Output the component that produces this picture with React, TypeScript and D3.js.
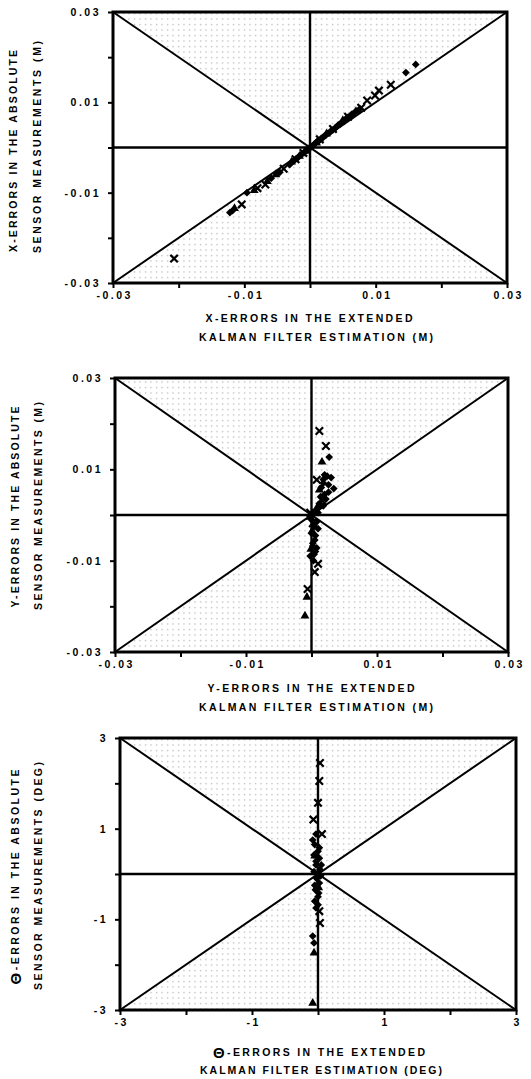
import { useEffect, useRef } from 'react';
import * as d3 from 'd3';

const width = 531;
const height = 1079;

// axis ticks and labels
const errorTicks = [-0.03, -0.02, -0.01, 0, 0.01, 0.02, 0.03];
const errorLabelValues = [-0.03, -0.01, 0.01, 0.03];
const errorLabels = ['-0.03', '-0.01', '0.01', '0.03'];
const thetaTicks = [-3, -2, -1, 0, 1, 2, 3];
const thetaLabelValues = [-3, -1, 1, 3];
const thetaLabels = ['-3', '-1', '1', '3'];

// X errors (m): [EKF estimation, absolute sensor]
const xDiamonds = [
    [0.0161, 0.0184], [0.0146, 0.0166], [0.0076, 0.0086], [0.0072, 0.0080], [0.0068, 0.0078],
    [0.0064, 0.0074], [0.0062, 0.0071], [0.0058, 0.0067], [0.0055, 0.0064], [0.0052, 0.0058],
    [0.0049, 0.0057], [0.0046, 0.0052], [0.0043, 0.0050], [0.0040, 0.0045], [0.0038, 0.0043],
    [0.0035, 0.0039], [0.0032, 0.0037], [0.0030, 0.0033], [0.0027, 0.0031], [0.0024, 0.0027],
    [0.0022, 0.0026], [0.0019, 0.0021], [0.0017, 0.0020], [0.0014, 0.0015], [0.0012, 0.0014],
    [0.0009, 0.0011], [0.0007, 0.0008], [0.0005, 0.0004], [0.0003, 0.0003], [0.0001, 0.0000],
    [-0.0002, -0.0002], [-0.0004, -0.0005], [-0.0007, -0.0008], [-0.0009, -0.0011], [-0.0012, -0.0014],
    [-0.0014, -0.0017], [-0.0017, -0.0020], [-0.0019, -0.0023], [-0.0022, -0.0026], [-0.0025, -0.0030],
    [-0.0031, -0.0038], [-0.0046, -0.0055], [-0.0059, -0.0068], [-0.0096, -0.0100], [-0.0122, -0.0144],
    [-0.0118, -0.0140],
];
const xCrosses = [
    [-0.0207, -0.0246], [0.0123, 0.0139], [0.0105, 0.0126], [0.0099, 0.0115], [0.0087, 0.0104],
    [0.0078, 0.0088], [0.0058, 0.0068], [0.0035, 0.0041], [0.0015, 0.0018], [-0.0010, -0.0012],
    [-0.0022, -0.0026], [-0.0040, -0.0047], [-0.0068, -0.0082], [-0.0104, -0.0126], [-0.0080, -0.0090],
];
const xTriangles = [
    [0.0070, 0.0080], [0.0050, 0.0060], [0.0025, 0.0030], [0.0010, 0.0010], [-0.0006, -0.0008],
    [-0.0016, -0.0019], [-0.0028, -0.0032], [-0.0052, -0.0060], [-0.0065, -0.0075], [-0.0085, -0.0095],
    [-0.0115, -0.0135],
];

// Y errors (m)
const yDiamonds = [
    [0.0027, 0.0127], [0.0020, 0.0088], [0.0024, 0.0085], [0.0030, 0.0082], [0.0018, 0.0078],
    [0.0018, 0.0070], [0.0026, 0.0066], [0.0034, 0.0058], [0.0026, 0.0050], [0.0015, 0.0060],
    [0.0020, 0.0045], [0.0014, 0.0040], [0.0022, 0.0035], [0.0012, 0.0025], [0.0018, 0.0020],
    [0.0008, 0.0012], [0.0003, 0.0003], [0.0010, 0.0005], [0.0000, -0.0010], [0.0008, -0.0015],
    [0.0004, -0.0025], [0.0010, -0.0030], [0.0000, -0.0040], [0.0006, -0.0045], [0.0005, -0.0055],
    [0.0002, -0.0062], [0.0002, -0.0068], [0.0008, -0.0072], [0.0006, -0.0080], [-0.0002, -0.0090],
    [0.0003, -0.0100], [0.0004, -0.0086],
];
const yCrosses = [
    [0.0012, 0.0184], [0.0022, 0.0151], [0.0008, 0.0077], [0.0016, 0.0032], [-0.0002, 0.0005],
    [0.0002, -0.0018], [0.0010, -0.0107], [0.0005, -0.0125], [-0.0006, -0.0162],
];
const yTriangles = [
    [0.0016, 0.0116], [0.0012, 0.0055], [0.0010, 0.0020], [-0.0002, -0.0005], [0.0001, -0.0035],
    [-0.0001, -0.0075], [-0.0007, -0.0180], [-0.0010, -0.0221],
];

// theta errors (deg)
const thetaDiamonds = [
    [-0.03, 0.88], [-0.08, 0.75], [-0.05, 0.65], [0.02, 0.58], [0.0, 0.5], [-0.06, 0.42],
    [0.02, 0.35], [-0.03, 0.28], [0.05, 0.2], [-0.03, 0.2], [0.03, 0.1], [-0.06, 0.05],
    [0.0, 0.0], [0.04, -0.04], [-0.02, -0.1], [0.02, -0.2], [-0.05, -0.25], [-0.04, -0.35],
    [0.01, -0.42], [0.0, -0.5], [-0.05, -0.6], [0.0, -0.68], [-0.03, -0.75], [-0.08, -1.37],
    [-0.06, -1.52],
];
const thetaCrosses = [
    [0.03, 2.45], [0.02, 2.05], [0.0, 1.57], [-0.07, 1.2], [0.06, 0.88], [0.03, -1.08], [0.02, -0.82],
];
const thetaTriangles = [[-0.06, -1.74], [-0.08, -2.85], [-0.05, 0.4], [0.01, -0.3]];

const panels = [
    {
        left: 113, right: 507, top: 12, bottom: 283, domain: [-0.03, 0.03],
        ticks: errorTicks, labelValues: errorLabelValues, labels: errorLabels,
        diamonds: xDiamonds, crosses: xCrosses, triangles: xTriangles,
        yTitle: [['X-ERRORS IN THE ABSOLUTE', 13, 151, 202], ['SENSOR MEASUREMENTS (M)', 37, 147, 212]],
        xTitle: [['X-ERRORS IN THE EXTENDED', 309, 318, 207], ['KALMAN FILTER ESTIMATION (M)', 316, 337, 234]],
    },
    {
        left: 115, right: 508, top: 378, bottom: 652, domain: [-0.03, 0.03],
        ticks: errorTicks, labelValues: errorLabelValues, labels: errorLabels,
        diamonds: yDiamonds, crosses: yCrosses, triangles: yTriangles,
        yTitle: [['Y-ERRORS IN THE ABSOLUTE', 15, 507, 201], ['SENSOR MEASUREMENTS (M)', 38, 506, 208]],
        xTitle: [['Y-ERRORS IN THE EXTENDED', 311, 688, 207], ['KALMAN FILTER ESTIMATION (M)', 316, 707, 234]],
    },
    {
        left: 120, right: 516, top: 738, bottom: 1010, domain: [-3, 3],
        ticks: thetaTicks, labelValues: thetaLabelValues, labels: thetaLabels,
        diamonds: thetaDiamonds, crosses: thetaCrosses, triangles: thetaTriangles,
        yTitle: [['Θ-ERRORS IN THE ABSOLUTE', 15, 877, 215], ['SENSOR MEASUREMENTS (DEG)', 38, 876, 228]],
        xTitle: [['Θ-ERRORS IN THE EXTENDED', 319, 1052, 212], ['KALMAN FILTER ESTIMATION (DEG)', 321, 1070, 242]],
    },
];

const font = '"Liberation Sans", Arial, sans-serif';

const App = () => {
    const svgRef = useRef(null);

    useEffect(() => {
        const svg = d3.select(svgRef.current);
        svg.selectAll('*').remove();

        const pat = svg.append('defs').append('pattern')
            .attr('id', 'stipple')
            .attr('width', 5.5)
            .attr('height', 5.5)
            .attr('patternUnits', 'userSpaceOnUse');
        pat.append('rect').attr('x', 2).attr('y', 2).attr('width', 1.1).attr('height', 1.1).attr('fill', '#999');

        panels.forEach(p => {
            const [lo, hi] = p.domain;
            const x = d3.scaleLinear().domain(p.domain).range([p.left, p.right]);
            const y = d3.scaleLinear().domain(p.domain).range([p.bottom, p.top]);
            const g = svg.append('g');
            const line = d3.line().x(d => x(d[0])).y(d => y(d[1]));

            // stippled hourglass |y| > |x|
            g.selectAll('path.shade')
                .data([[[lo, hi], [hi, hi], [0, 0]], [[lo, lo], [hi, lo], [0, 0]]])
                .join('path')
                .attr('class', 'shade')
                .attr('d', d => line(d) + 'Z')
                .attr('fill', 'url(#stipple)');

            // diagonals and zero cross
            g.selectAll('path.guide')
                .data([
                    [[lo, lo], [hi, hi]],
                    [[lo, hi], [hi, lo]],
                    [[lo, 0], [hi, 0]],
                    [[0, lo], [0, hi]],
                ])
                .join('path')
                .attr('class', 'guide')
                .attr('d', d => line(d))
                .attr('stroke', '#000')
                .attr('stroke-width', (d, i) => (i < 2 ? 2 : 2.4))
                .attr('fill', 'none');

            // markers
            const sym = d3.symbol();
            g.selectAll('path.dia')
                .data(p.diamonds)
                .join('path')
                .attr('class', 'dia')
                .attr('transform', d => `translate(${x(d[0])},${y(d[1])}) rotate(45)`)
                .attr('d', sym.type(d3.symbolSquare).size(30)())
                .attr('fill', '#000');
            g.selectAll('path.tri')
                .data(p.triangles)
                .join('path')
                .attr('class', 'tri')
                .attr('transform', d => `translate(${x(d[0])},${y(d[1])})`)
                .attr('d', sym.type(d3.symbolTriangle).size(34)())
                .attr('fill', '#000');
            g.selectAll('path.crs')
                .data(p.crosses)
                .join('path')
                .attr('class', 'crs')
                .attr('transform', d => `translate(${x(d[0])},${y(d[1])})`)
                .attr('d', sym.type(d3.symbolTimes || d3.symbolCross).size(38)())
                .attr('fill', 'none')
                .attr('stroke', '#000')
                .attr('stroke-width', 2.2);

            // frame
            g.append('rect')
                .attr('x', p.left)
                .attr('y', p.top)
                .attr('width', p.right - p.left)
                .attr('height', p.bottom - p.top)
                .attr('fill', 'none')
                .attr('stroke', '#000')
                .attr('stroke-width', 3);

            const fmt = v => {
                const i = p.labelValues.findIndex(l => Math.abs(l - v) < 1e-9);
                return i >= 0 ? p.labels[i] : '';
            };

            const yAxis = g.append('g')
                .attr('transform', `translate(${p.left},0)`)
                .call(d3.axisLeft(y).tickValues(p.ticks).tickSize(5).tickPadding(7).tickFormat(fmt));
            const xAxis = g.append('g')
                .attr('transform', `translate(0,${p.bottom})`)
                .call(d3.axisBottom(x).tickValues(p.ticks).tickSize(5).tickPadding(4).tickFormat(fmt));

            [yAxis, xAxis].forEach(a => {
                a.select('.domain').remove();
                a.selectAll('line').attr('stroke-width', 2);
                a.selectAll('text')
                    .attr('fill', '#000')
                    .style('font-family', font)
                    .style('font-weight', 'bold')
                    .style('font-size', '10.5px')
                    .style('letter-spacing', '2.5px');
            });
            xAxis.selectAll('text').attr('dx', '1.2px');

            const addText = (parent, [label, cx, cy, len], rotate) => {
                const t = parent.append('text')
                    .attr('transform', rotate ? `translate(${cx},${cy}) rotate(-90)` : `translate(${cx},${cy})`)
                    .attr('text-anchor', 'middle')
                    .attr('dominant-baseline', 'central')
                    .attr('textLength', len)
                    .attr('lengthAdjust', 'spacing')
                    .style('font-family', font)
                    .style('font-weight', 'bold')
                    .style('font-size', '10.5px');
                if (label.startsWith('Θ')) {
                    t.append('tspan').style('font-size', '15px').text('Θ');
                    t.append('tspan').text(label.slice(1));
                } else {
                    t.text(label);
                }
            };
            p.yTitle.forEach(d => addText(g, d, true));
            p.xTitle.forEach(d => addText(g, d, false));
        });
    }, []);

    return (
        <svg
            ref={svgRef}
            width={width}
            height={height}
            style={{ position: 'absolute', left: 0, top: 0, background: '#fff' }}
        ></svg>
    );
};

export default App;
